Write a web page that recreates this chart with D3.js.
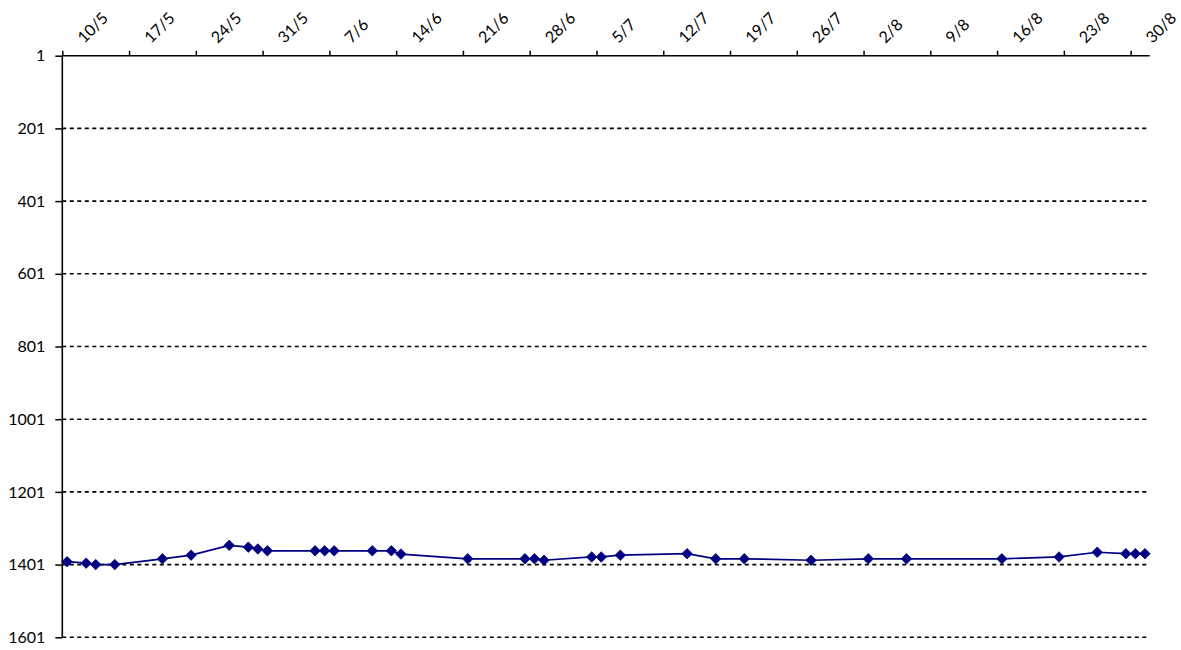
<!DOCTYPE html>
<html>
<head>
<meta charset="utf-8">
<script src="https://cdn.jsdelivr.net/npm/d3@7"></script>
<style>
  body { margin: 0; background: #fff; }
  svg { display: block; }
  text { font-family: Lato, "Open Sans", sans-serif; font-size: 16px; fill: #000; }
</style>
</head>
<body>
<script>
// dias / posicoes
var datas = ["10/5","12/5","13/5","15/5","20/5","23/5","27/5","29/5","30/5","31/5",
             "5/6","6/6","7/6","11/6","13/6","14/6","21/6","27/6","28/6","29/6",
             "4/7","5/7","7/7","14/7","17/7","20/7","27/7","2/8","6/8","16/8",
             "22/8","26/8","29/8","30/8","31/8"];
var posicoes = [1393,1397,1401,1401,1385,1375,1348,1353,1358,1363,
                1363,1363,1363,1363,1363,1372,1385,1385,1385,1389,
                1380,1380,1375,1371,1385,1385,1389,1385,1385,1385,
                1380,1367,1371,1371,1371];
var rotulosX = ["10/5","17/5","24/5","31/5","7/6","14/6","21/6","28/6","5/7",
                "12/7","19/7","26/7","2/8","9/8","16/8","23/8","30/8"];
var ticksY = [1,201,401,601,801,1001,1201,1401,1601];

var ano = 2010;
function parseData(s) {
    var p = s.split("/");
    return new Date(ano, +p[1] - 1, +p[0]);
}

var svg = d3.select("body").append("svg").attr("width", 1181).attr("height", 650);

var x = d3.scaleTime()
          .domain([parseData("10/5"), d3.timeDay.offset(parseData("31/8"), 1)])
          .range([62.3, 1149.7]);
var y = d3.scaleLinear().domain([1, 1601]).range([55.7, 637.3]);

//linhas de grade
svg.append("g").selectAll("line")
   .data(ticksY.slice(1))
   .enter().append("line")
   .attr("x1", x.range()[0]).attr("x2", x.range()[1])
   .attr("y1", function (d) { return y(d); })
   .attr("y2", function (d) { return y(d); })
   .attr("stroke", "#000").attr("stroke-width", 1.6)
   .attr("stroke-dasharray", "4,3.5");

//eixo y
var eixoY = svg.append("g").attr("transform", "translate(62.3,0)")
               .call(d3.axisLeft(y).tickValues(ticksY).tickSize(7).tickPadding(10).tickFormat(d3.format("d")));
eixoY.select(".domain").attr("d", "M0," + y(1) + "V" + y(1601)).attr("stroke-width", 1.6);
eixoY.selectAll(".tick line").attr("stroke-width", 1.5);
eixoY.selectAll("text").attr("font-size", 16).attr("font-family", null);

//eixo x (topo)
var eixoX = svg.append("g").attr("transform", "translate(0,55.7)")
               .call(d3.axisTop(x).tickValues(rotulosX.map(parseData)).tickSize(5).tickFormat(""));
eixoX.select(".domain").attr("d", "M" + x.range()[0] + ",0H" + x.range()[1]).attr("stroke-width", 1.6);
eixoX.selectAll(".tick line").attr("stroke-width", 1.5);

svg.append("g").selectAll("text")
   .data(rotulosX)
   .enter().append("text")
   .attr("transform", function (d) { return "translate(" + (x(parseData(d)) + 22) + ",44) rotate(-45)"; })
   .attr("text-anchor", "start")
   .text(function (d) { return d; });

//serie
var pontos = datas.map(function (d, i) {
    return { x: x(d3.timeHour.offset(parseData(d), 12)), y: y(posicoes[i]) };
});

svg.append("path")
   .datum(pontos)
   .attr("fill", "none")
   .attr("stroke", "#000080")
   .attr("stroke-width", 1.7)
   .attr("d", d3.line().x(function (d) { return d.x; }).y(function (d) { return d.y; }));

svg.append("g").selectAll("path")
   .data(pontos)
   .enter().append("path")
   .attr("d", d3.symbol().type(d3.symbolDiamond2).size(70))
   .attr("transform", function (d) { return "translate(" + d.x + "," + d.y + ")"; })
   .attr("fill", "#000080")
   .attr("stroke", "#000080")
   .attr("stroke-width", 0.8);
</script>
</body>
</html>
